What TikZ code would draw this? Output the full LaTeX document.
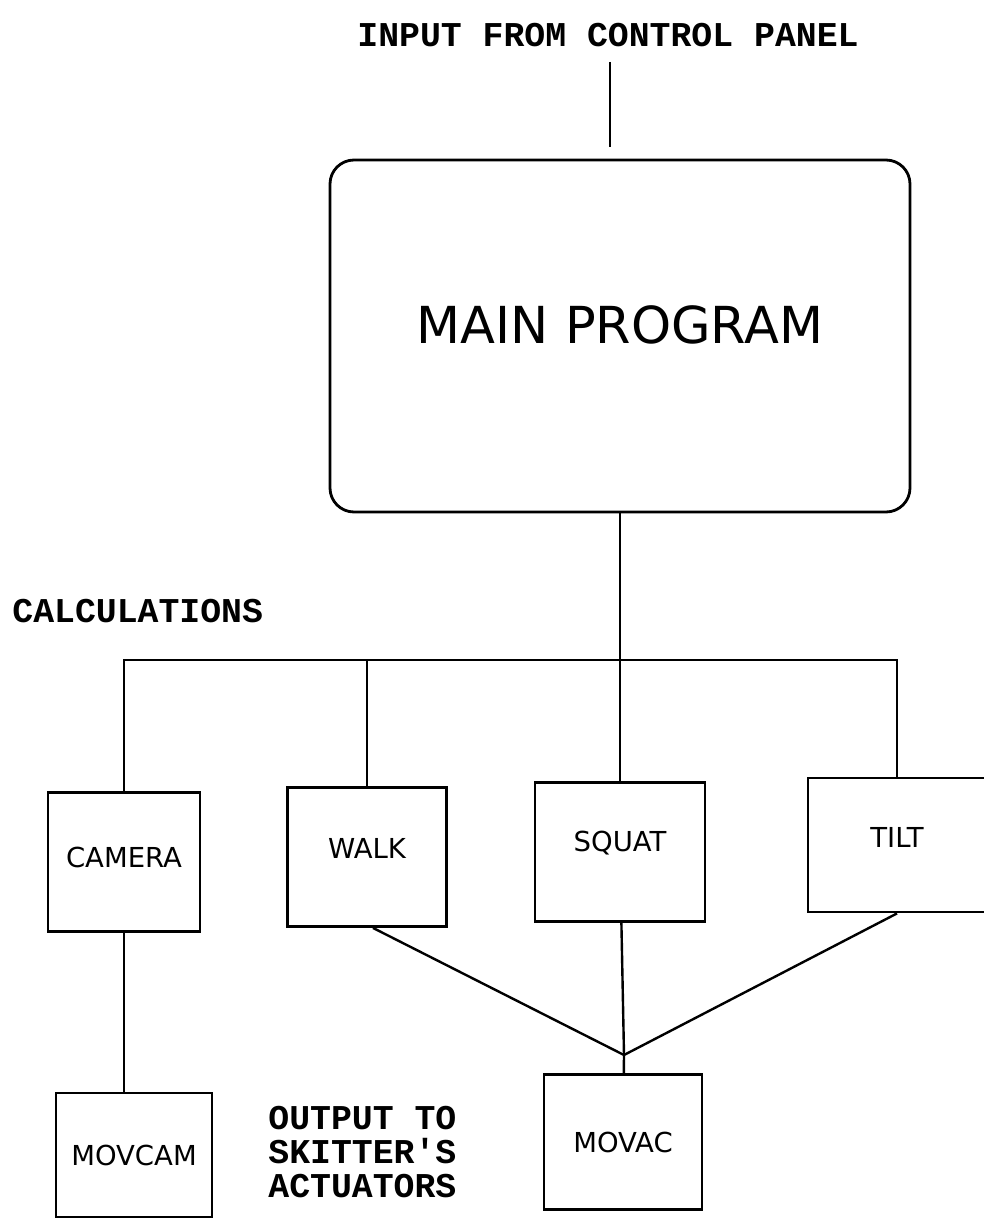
\documentclass[tikz,border=0pt]{standalone}
\usepackage{fontspec}
\usepackage{tikz}
\usetikzlibrary{positioning}
\newfontfamily\plotfont{DejaVu Sans}
\newfontfamily\typefont{Liberation Mono}

\begin{document}
\begin{tikzpicture}[x=0.5pt, y=-0.5pt,
  calc/.style={draw,line width=1.4pt,inner sep=0pt,minimum height=69.5pt,font=\plotfont\fontsize{13.75}{16}\selectfont},
  mainbox/.style={draw,line width=1.4pt,rounded corners=12pt,minimum width=290pt,minimum height=176pt,text depth=11pt,font=\plotfont\fontsize{25.5}{30}\selectfont},
  typed/.style={font=\typefont\bfseries\fontsize{17.4}{17}\selectfont,inner sep=0pt},
  wire/.style={line width=1.2pt}]
\useasboundingbox (0,0) rectangle (984,1220);
\node[typed] (input) at (608,35) {INPUT FROM CONTROL PANEL};
\coordinate (inTop) at (610,62);\coordinate (inEnd) at (610,147);
\draw[wire] (inTop)--(inEnd);
\node[mainbox] (main) at (620,336) {MAIN PROGRAM};
\node[typed,anchor=west] (calcs) at (12,611) {CALCULATIONS};
% calculation blocks
\node[calc,minimum width=76pt,text depth=5pt] (camera) at (124,862) {CAMERA};
\node[calc,minimum width=79.5pt,text depth=9pt] (walk) at (367,857) {WALK};
\node[calc,minimum width=85pt,text depth=11pt] (squat) at (620,852) {SQUAT};
\node[calc,minimum width=89pt,minimum height=67pt,text depth=8pt] (tilt) at (897,845) {TILT};
\coordinate (bar) at (620,660);
\draw[wire] (main)--(squat);
\draw[wire] (camera.north)--(camera.north |- bar)--(tilt.north |- bar)--(tilt.north);
\draw[wire] (walk.north)--(walk.north |- bar);
% actuator outputs
\node[calc,minimum width=78pt,minimum height=62pt] (movcam) at (134,1155) {MOVCAM};
\node[calc,minimum width=79pt,minimum height=67.5pt] (movac) at (623,1142) {MOVAC};
\node[typed,anchor=west,align=left] (output) at (268,1152) {OUTPUT TO\\SKITTER'S\\ACTUATORS};
\coordinate (join) at (624,1055);
\draw[wire] (camera.south)--(camera.south |- movcam.north);
\draw[wire] ([xshift=3pt]walk.south)--(join)--(tilt.south);
\draw[wire] (squat)--(join)--(movac);
\end{tikzpicture}
\end{document}
